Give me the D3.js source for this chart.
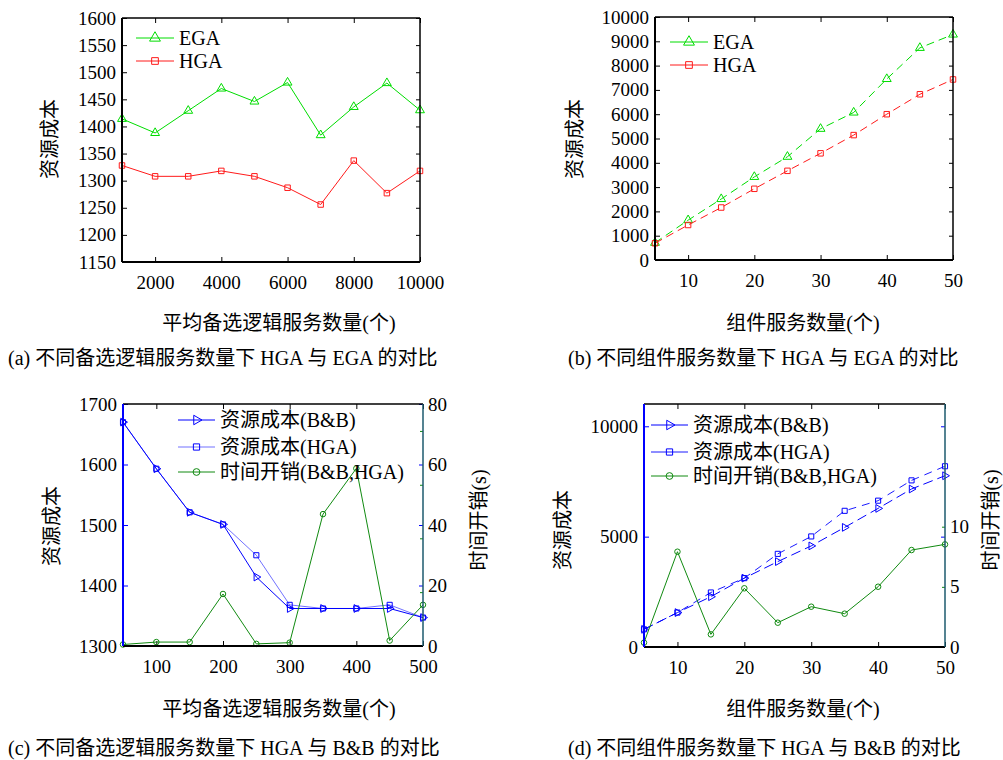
<!DOCTYPE html>
<html>
<head>
<meta charset="utf-8">
<script src="https://cdn.jsdelivr.net/npm/d3@7"></script>
<style>
body { margin: 0; background: #fff; }
svg text { font-family: "Liberation Serif", "Times New Roman", "Noto Sans CJK SC", serif; fill: #000; }
</style>
</head>
<body>
<svg id="plotCanvas" width="1003" height="760"></svg>
<script>
// (a) alternatives per logical service
var aX = [1000, 2000, 3000, 4000, 5000, 6000, 7000, 8000, 9000, 10000];
var aEGA = [1414, 1388, 1429, 1470, 1446, 1481, 1384, 1436, 1480, 1430];
var aHGA = [1328, 1308, 1308, 1318, 1308, 1287, 1256, 1337, 1277, 1318];
var aXTicks = [2000, 4000, 6000, 8000, 10000];
var aYTicks = [1150, 1200, 1250, 1300, 1350, 1400, 1450, 1500, 1550, 1600];

// (b) number of component services
var bX = [5, 10, 15, 20, 25, 30, 35, 40, 45, 50];
var bEGA = [710, 1640, 2510, 3420, 4250, 5400, 6070, 7450, 8730, 9280];
var bHGA = [690, 1440, 2160, 2930, 3670, 4390, 5140, 6000, 6820, 7430];
var bXTicks = [10, 20, 30, 40, 50];
var bYTicks = [0, 1000, 2000, 3000, 4000, 5000, 6000, 7000, 8000, 9000, 10000];

// (c) HGA vs B&B, alternatives per logical service
var cX = [50, 100, 150, 200, 250, 300, 350, 400, 450, 500];
var cBB = [1670, 1593, 1521, 1501, 1414, 1362, 1362, 1362, 1362, 1347];
var cHGA = [1670, 1593, 1521, 1501, 1450, 1368, 1362, 1362, 1368, 1347];
var cTime = [0.5, 1.3, 1.3, 17.2, 0.7, 1.1, 43.6, 58.7, 1.8, 13.6];
var cXTicks = [100, 200, 300, 400, 500];
var cYTicks = [1300, 1400, 1500, 1600, 1700];
var cY2Ticks = [0, 20, 40, 60, 80];
var cY2Minor = [17.8, 35.6, 53.3, 71.1];

// (d) HGA vs B&B, number of component services
var dX = [5, 10, 15, 20, 25, 30, 35, 40, 45, 50];
var dBB = [800, 1560, 2280, 3120, 3870, 4580, 5420, 6280, 7160, 7760];
var dHGA = [800, 1560, 2470, 3120, 4220, 5010, 6170, 6630, 7550, 8190];
var dTime = [0.36, 7.92, 1.05, 4.88, 2.02, 3.35, 2.77, 5.01, 8.06, 8.53];
var dXTicks = [10, 20, 30, 40, 50];
var dYTicks = [0, 5000, 10000];
var dY2Ticks = [0, 5, 10];
var dY2Minor = [5, 10];

var canvas = d3.select("#plotCanvas");
var GREEN = "#00dd00", RED = "#ff1a1a", BLUE = "#0000ff", DGREEN = "#108a10", TEAL = "#1d5a6e";
var fmt = d3.format("d");

function styleAxis(ax, color) {
    ax.select(".domain").remove();
    ax.attr("font-family", null).attr("font-size", "19px");
    ax.selectAll("line").attr("stroke", color || "#000");
    ax.selectAll("text").attr("fill", "#000");
}

function drawPanel(p)
{
    var g = canvas.append("g");
    var x = d3.scaleLinear().domain(p.xDomain).range([p.left, p.right]);
    var y = d3.scaleLinear().domain(p.yDomain).range([p.bottom, p.top]);
    var y2 = p.y2Domain ? d3.scaleLinear().domain(p.y2Domain).range([p.bottom, p.top]) : null;

    // axes (ticks point inwards)
    styleAxis(g.append("g").attr("transform", "translate(0," + p.bottom + ")")
        .call(d3.axisBottom(x).tickValues(p.xTicks).tickFormat(fmt).tickSizeInner(-5).tickSizeOuter(0).tickPadding(14)));
    styleAxis(g.append("g").attr("transform", "translate(0," + p.top + ")")
        .call(d3.axisTop(x).tickValues(p.xTicks).tickSizeInner(-5).tickSizeOuter(0).tickFormat("")));
    styleAxis(g.append("g").attr("transform", "translate(" + p.left + ",0)")
        .call(d3.axisLeft(y).tickValues(p.yTicks).tickFormat(fmt).tickSizeInner(-5).tickSizeOuter(0).tickPadding(6)), p.leftColor);
    styleAxis(g.append("g").attr("transform", "translate(" + p.right + ",0)")
        .call(d3.axisRight(y).tickValues(p.yTicks).tickSizeInner(-4).tickSizeOuter(0).tickFormat("")), p.leftColor);
    if (y2) {
        styleAxis(g.append("g").attr("transform", "translate(" + p.right + ",0)")
            .call(d3.axisRight(y2).tickValues(p.y2Ticks).tickFormat(fmt).tickSizeInner(0).tickSizeOuter(0).tickPadding(5)));
        styleAxis(g.append("g").attr("transform", "translate(" + p.right + ",0)")
            .call(d3.axisRight(y2).tickValues(p.y2Minor).tickSizeInner(-3).tickSizeOuter(0).tickFormat("")), DGREEN);
    }

    // series
    p.series.forEach(function(s) {
        var sy = s.right ? y2 : y;
        var line = d3.line()
            .x(function(d, i) { return x(p.xs[i]); })
            .y(function(d) { return sy(d); });
        g.append("path").datum(s.values)
            .attr("d", line)
            .attr("fill", "none")
            .attr("stroke", s.color)
            .attr("stroke-width", s.width || 1)
            .attr("stroke-opacity", s.opacity || 1)
            .attr("stroke-dasharray", s.dash || null);
        g.selectAll(null).data(s.values).enter().append("path")
            .attr("transform", function(d, i) {
                return "translate(" + x(p.xs[i]) + "," + sy(d) + ")" + (s.rotate ? " rotate(" + s.rotate + ")" : "");
            })
            .attr("d", d3.symbol().type(s.symbol).size(s.size))
            .attr("fill", "none")
            .attr("stroke", s.color)
            .attr("stroke-width", 1);
    });

    // frame
    g.append("line").attr("x1", p.left).attr("x2", p.right).attr("y1", p.top).attr("y2", p.top)
        .attr("stroke", "#000").attr("stroke-width", 1.5);
    g.append("line").attr("x1", p.left).attr("x2", p.right).attr("y1", p.bottom).attr("y2", p.bottom)
        .attr("stroke", "#000").attr("stroke-width", 2);
    g.append("line").attr("x1", p.left).attr("x2", p.left).attr("y1", p.top).attr("y2", p.bottom)
        .attr("stroke", p.leftColor || "#000").attr("stroke-width", 2);
    g.append("line").attr("x1", p.right).attr("x2", p.right).attr("y1", p.top).attr("y2", p.bottom)
        .attr("stroke", p.rightColor || "#000").attr("stroke-width", 1.5);

    // legend
    p.series.forEach(function(s, i) {
        var ly = p.legend.ys[i];
        g.append("line").attr("x1", p.legend.x0).attr("x2", p.legend.x1).attr("y1", ly).attr("y2", ly)
            .attr("stroke", s.color).attr("stroke-width", s.width || 1).attr("stroke-opacity", s.opacity || 1);
        g.append("path")
            .attr("transform", "translate(" + (p.legend.x0 + p.legend.x1) / 2 + "," + ly + ")" + (s.rotate ? " rotate(" + s.rotate + ")" : ""))
            .attr("d", d3.symbol().type(s.symbol).size(s.size * 1.5))
            .attr("fill", "none").attr("stroke", s.color);
        g.append("text").attr("x", p.legend.x1 + 5).attr("y", ly + 7)
            .attr("font-size", "20px").text(s.name);
    });

    // labels
    g.append("text").attr("transform", "translate(" + p.yLabel[0] + "," + p.yLabel[1] + ") rotate(-90)")
        .attr("text-anchor", "middle").attr("dy", "0.35em").attr("font-size", "20px").text("资源成本");
    if (p.y2Label)
        g.append("text").attr("transform", "translate(" + p.y2Label[0] + "," + p.y2Label[1] + ") rotate(-90)")
            .attr("text-anchor", "middle").attr("dy", "0.35em").attr("font-size", "20px").text("时间开销(s)");
    g.append("text").attr("x", p.xLabel[0]).attr("y", p.xLabel[1])
        .attr("text-anchor", "middle").attr("font-size", "20px").text(p.xTitle);
    g.append("text").attr("x", p.caption[0]).attr("y", p.caption[1])
        .attr("font-size", "20px").attr("xml:space", "preserve").text(p.captionText);
}

drawPanel({
    left: 122, right: 420, top: 18, bottom: 262,
    xDomain: [1000, 10000], yDomain: [1150, 1600],
    xTicks: aXTicks, yTicks: aYTicks, xs: aX,
    series: [
        { name: "EGA", values: aEGA, color: GREEN, symbol: d3.symbolTriangle, size: 34 },
        { name: "HGA", values: aHGA, color: RED, symbol: d3.symbolSquare, size: 30 }
    ],
    legend: { x0: 136, x1: 174, ys: [38, 61] },
    yLabel: [50, 139], xLabel: [279, 330], xTitle: "平均备选逻辑服务数量(个)",
    caption: [8, 365], captionText: "(a) 不同备选逻辑服务数量下 HGA 与 EGA 的对比"
});

drawPanel({
    left: 655, right: 953, top: 17, bottom: 260,
    xDomain: [5, 50], yDomain: [0, 10000],
    xTicks: bXTicks, yTicks: bYTicks, xs: bX,
    series: [
        { name: "EGA", values: bEGA, color: GREEN, symbol: d3.symbolTriangle, size: 34, dash: "8,5" },
        { name: "HGA", values: bHGA, color: RED, symbol: d3.symbolSquare, size: 30, dash: "8,5" }
    ],
    legend: { x0: 670, x1: 708, ys: [42, 65] },
    yLabel: [575, 139], xLabel: [803, 330], xTitle: "组件服务数量(个)",
    caption: [568, 365], captionText: "(b) 不同组件服务数量下 HGA 与 EGA 的对比"
});

drawPanel({
    left: 123, right: 423, top: 404, bottom: 646,
    xDomain: [50, 500], yDomain: [1300, 1700], y2Domain: [0, 80],
    xTicks: cXTicks, yTicks: cYTicks, y2Ticks: cY2Ticks, y2Minor: cY2Minor, xs: cX,
    leftColor: BLUE, rightColor: TEAL,
    series: [
        { name: "资源成本(B&B)", values: cBB, color: BLUE, symbol: d3.symbolTriangle, size: 26, rotate: 90 },
        { name: "资源成本(HGA)", values: cHGA, color: BLUE, symbol: d3.symbolSquare, size: 26, width: 0.8, opacity: 0.7 },
        { name: "时间开销(B&B,HGA)", values: cTime, color: DGREEN, symbol: d3.symbolCircle, size: 24, right: true }
    ],
    legend: { x0: 178, x1: 215, ys: [420, 447, 472] },
    yLabel: [52, 526], y2Label: [479, 520], xLabel: [279, 716], xTitle: "平均备选逻辑服务数量(个)",
    caption: [8, 755], captionText: "(c) 不同备选逻辑服务数量下 HGA 与 B&B 的对比"
});

drawPanel({
    left: 644, right: 945, top: 404, bottom: 647,
    xDomain: [5, 50], yDomain: [0, 11010], y2Domain: [0, 20.2],
    xTicks: dXTicks, yTicks: dYTicks, y2Ticks: dY2Ticks, y2Minor: dY2Minor, xs: dX,
    leftColor: BLUE, rightColor: TEAL,
    series: [
        { name: "资源成本(B&B)", values: dBB, color: BLUE, symbol: d3.symbolTriangle, size: 26, rotate: 90, dash: "10,5" },
        { name: "资源成本(HGA)", values: dHGA, color: BLUE, symbol: d3.symbolSquare, size: 26, dash: "8,6", width: 0.9 },
        { name: "时间开销(B&B,HGA)", values: dTime, color: DGREEN, symbol: d3.symbolCircle, size: 24, right: true }
    ],
    legend: { x0: 651, x1: 688, ys: [425, 452, 476] },
    yLabel: [563, 530], y2Label: [991, 520], xLabel: [803, 716], xTitle: "组件服务数量(个)",
    caption: [568, 755], captionText: "(d) 不同组件服务数量下 HGA 与 B&B 的对比"
});
</script>
</body>
</html>
